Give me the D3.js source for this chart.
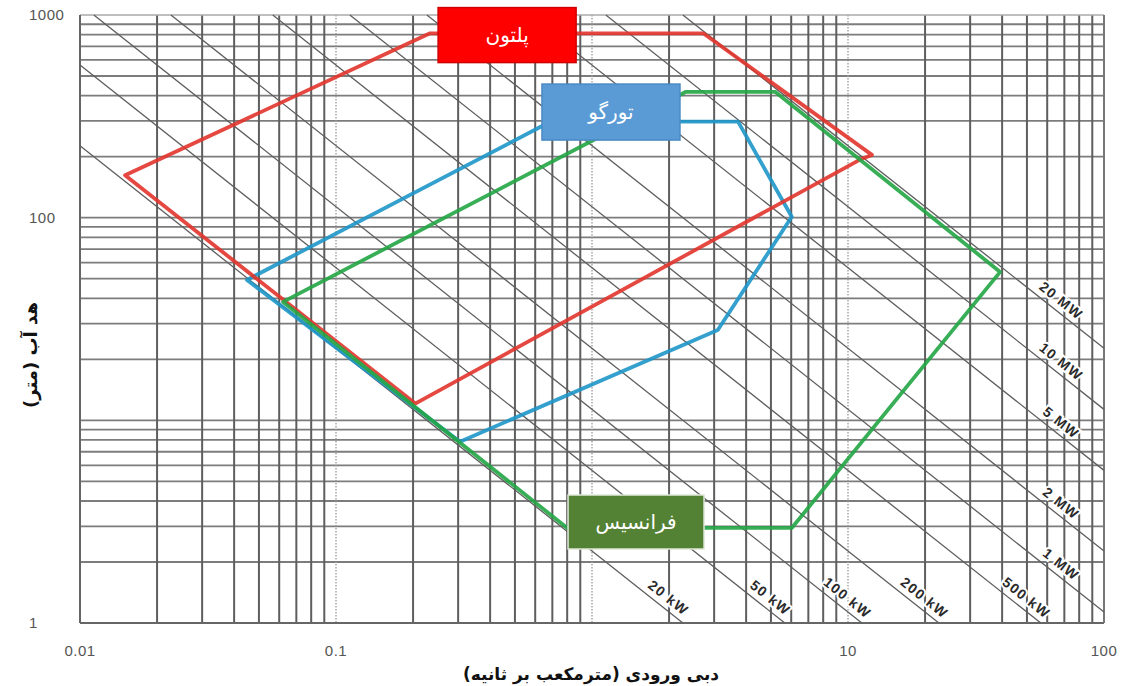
<!DOCTYPE html>
<html>
<head>
<meta charset="utf-8">
<script src="https://cdn.jsdelivr.net/npm/d3@7"></script>
<style>
  html, body { margin: 0; padding: 0; background: #fff; }
  svg { display: block; }
</style>
</head>
<body>
<svg id="chart" width="1121" height="686"></svg>
<script>
// ---------- data ----------
const xTickValues = [0.01, 0.1, 10, 100];
const xTickLabels = ["0.01", "0.1", "10", "100"];
const yTickValues = [1, 100, 1000];
const yTickLabels = ["1", "100", "1000"];

// constant-power lines (kW)
const powerValues = [20, 50, 100, 200, 500, 1000, 2000, 5000, 10000, 20000];
const powerLabels = ["20 kW", "50 kW", "100 kW", "200 kW", "500 kW", "1 MW", "2 MW", "5 MW", "10 MW", "20 MW"];

// turbine application envelopes: flow Q (m3/s), head H (m)
const peltonQ  = [0.015, 0.233, 2.72, 12.4, 11.1, 0.204];
const peltonH  = [162,   812,   812,  204,  193,  12.1];
const turgoQ   = [0.0449, 0.69, 3.72, 6.03, 3.1, 0.305];
const turgoH   = [49.3,   298,  298,  101,  27.9, 7.85];
const francisQ = [0.0621, 2.33, 5.19, 39.3, 6.04, 0.798];
const francisH = [38.4,   418,  418,  54,   2.95, 2.95];

const turbineNames = ["پلتون", "تورگو", "فرانسیس"];
const xTitle = "دبی ورودی (مترمکعب بر ثانیه)";
const yTitle = "هد آب (متر)";

// ---------- layout ----------
const svg = d3.select("#chart");
const L = 80, R = 1104, T = 15, B = 623;
const x = d3.scaleLog().domain([0.01, 100]).range([L, R]);
const y = d3.scaleLog().domain([1, 1000]).range([B, T]);

const g = svg.append("g");

// ---------- grid ----------
const xMinor = [], xDecades = [];
for (let e = -2; e < 2; e++) {
  for (let m = 2; m <= 9; m++) xMinor.push(m * Math.pow(10, e));
  if (e > -2) xDecades.push(Math.pow(10, e));
}
const yGrid = [];
for (let e = 0; e < 3; e++) {
  for (let m = 1; m <= 9; m++) if (!(e === 0 && m === 1)) yGrid.push(m * Math.pow(10, e));
}

g.selectAll("line.hgrid").data(yGrid).join("line")
  .attr("x1", L).attr("x2", R)
  .attr("y1", d => y(d)).attr("y2", d => y(d))
  .attr("stroke", "#7c7c7c").attr("stroke-width", 1.8);

g.selectAll("line.vgrid").data(xMinor).join("line")
  .attr("x1", d => x(d)).attr("x2", d => x(d))
  .attr("y1", T).attr("y2", B)
  .attr("stroke", "#5e5e5e").attr("stroke-width", 2);

g.selectAll("line.vdec").data(xDecades).join("line")
  .attr("x1", d => x(d)).attr("x2", d => x(d))
  .attr("y1", T).attr("y2", B)
  .attr("stroke", "#999").attr("stroke-width", 1.3)
  .attr("stroke-dasharray", "1.5,1.5");

// frame
g.append("line").attr("x1", L).attr("x2", R).attr("y1", T).attr("y2", T).attr("stroke", "#aaa").attr("stroke-width", 1.6);
g.append("line").attr("x1", L).attr("x2", R).attr("y1", B).attr("y2", B).attr("stroke", "#666").attr("stroke-width", 2);
g.append("line").attr("x1", L).attr("x2", L).attr("y1", T).attr("y2", B).attr("stroke", "#666").attr("stroke-width", 2);
g.append("line").attr("x1", R).attr("x2", R).attr("y1", T).attr("y2", B).attr("stroke", "#777").attr("stroke-width", 2);

// ---------- constant power lines ----------
const k = 9.81 * 0.9; // P = rho g Q H eta (kW)
const line = d3.line().x(d => x(d[0])).y(d => y(d[1]));
const powerData = powerValues.map((p, i) => {
  const qh = p / k;
  const q1 = Math.max(0.01, qh / 1000), q2 = Math.min(100, qh / 1);
  return { qh, label: powerLabels[i], pts: [[q1, qh / q1], [q2, qh / q2]] };
});
g.selectAll("path.pw").data(powerData).join("path")
  .attr("d", d => line(d.pts))
  .attr("fill", "none").attr("stroke", "#5e5e5e").attr("stroke-width", 1.3);

// ---------- envelopes ----------
const envs = [
  { q: turgoQ, h: turgoH, color: "#1e96c8" },
  { q: peltonQ, h: peltonH, color: "#e2342b" },
  { q: francisQ, h: francisH, color: "#22a545" }
];
const closed = d3.line().x(d => x(d[0])).y(d => y(d[1])).curve(d3.curveLinearClosed);
g.selectAll("path.env").data(envs).join("path")
  .attr("d", d => closed(d.q.map((q, i) => [q, d.h[i]])))
  .attr("fill", "none").attr("stroke", d => d.color)
  .attr("stroke-width", 3.8).attr("stroke-linejoin", "round")
  .attr("stroke-opacity", 0.9);

// ---------- power labels ----------
const ang = Math.atan2(y(1) - y(10), x(10) - x(1)); // screen angle of slope -1 lines
const angDeg = ang * 180 / Math.PI;
const off = 11;
g.selectAll("text.pl").data(powerData).join("text")
  .attr("transform", d => {
    const qa = Math.min(d.qh / 1.21, 64);
    const px = x(qa) + off * Math.sin(ang);
    const py = y(d.qh / qa) - off * Math.cos(ang);
    return `translate(${px},${py}) rotate(${angDeg})`;
  })
  .attr("text-anchor", "middle").attr("dominant-baseline", "central")
  .attr("font-family", "Liberation Sans, Arial, sans-serif")
  .attr("font-size", 14).attr("font-weight", "bold")
  .attr("letter-spacing", 1.3)
  .attr("fill", "#2a2a2a")
  .attr("stroke", "#fff").attr("stroke-width", 4).attr("paint-order", "stroke")
  .text(d => d.label);

// ---------- turbine label boxes ----------
const boxes = [
  { name: turbineNames[0], q: 0.466, h: 796, w: 138, hgt: 55, fill: "#ff0000", stroke: "#d00000" },
  { name: turbineNames[1], q: 1.186, h: 332, w: 138, hgt: 56, fill: "#5b9bd5", stroke: "#4a8ac4" },
  { name: turbineNames[2], q: 1.486, h: 3.15, w: 136, hgt: 54, fill: "#548235", stroke: "#dfe8d8" }
];
const bg = g.selectAll("g.box").data(boxes).join("g")
  .attr("transform", d => `translate(${x(d.q)},${y(d.h)})`);
bg.append("rect")
  .attr("x", d => -d.w / 2).attr("y", d => -d.hgt / 2)
  .attr("width", d => d.w).attr("height", d => d.hgt)
  .attr("fill", d => d.fill).attr("stroke", d => d.stroke).attr("stroke-width", 1.5);
bg.append("text")
  .attr("text-anchor", "middle").attr("dominant-baseline", "central")
  .attr("direction", "rtl")
  .attr("font-family", "DejaVu Sans, Noto Sans, sans-serif")
  .attr("font-size", 20).attr("fill", "#fff")
  .text(d => d.name);

// ---------- tick labels ----------
g.selectAll("text.xt").data(xTickValues).join("text")
  .attr("x", d => x(d)).attr("y", 656)
  .attr("text-anchor", "middle")
  .attr("font-family", "Liberation Sans, Arial, sans-serif")
  .attr("font-size", 15).attr("letter-spacing", 0.5).attr("fill", "#555")
  .text((d, i) => xTickLabels[i]);

g.selectAll("text.yt").data(yTickValues).join("text")
  .attr("x", 29).attr("y", d => y(d) + 5)
  .attr("text-anchor", "start")
  .attr("font-family", "Liberation Sans, Arial, sans-serif")
  .attr("font-size", 15).attr("letter-spacing", 0.5).attr("fill", "#555")
  .text((d, i) => yTickLabels[i]);

// ---------- axis titles ----------
svg.append("text")
  .attr("x", 591).attr("y", 680)
  .attr("text-anchor", "middle").attr("direction", "rtl")
  .attr("font-family", "DejaVu Sans, Noto Sans, sans-serif")
  .attr("font-size", 17).attr("font-weight", "bold").attr("fill", "#111")
  .text(xTitle);

svg.append("text")
  .attr("transform", "translate(30,355) rotate(-90)")
  .attr("text-anchor", "middle").attr("direction", "rtl")
  .attr("dominant-baseline", "central")
  .attr("font-family", "DejaVu Sans, Noto Sans, sans-serif")
  .attr("font-size", 18).attr("font-weight", "bold").attr("fill", "#111")
  .text(yTitle);
</script>
</body>
</html>
